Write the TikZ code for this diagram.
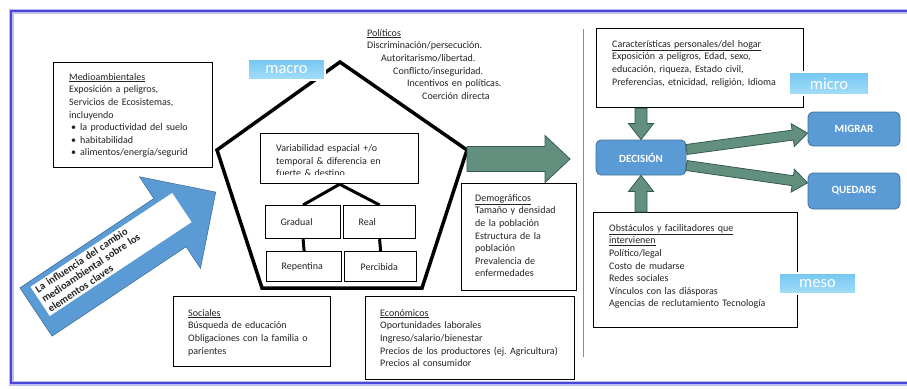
\documentclass[tikz,border=0pt]{standalone}
\usepackage{fontspec}
\setmainfont{Carlito}
\usetikzlibrary{calc}
\definecolor{frameblue}{RGB}{70,70,215}
\definecolor{arrgreen}{RGB}{98,143,126}
\definecolor{arrgreenD}{RGB}{52,92,78}
\definecolor{officeblue}{RGB}{91,155,213}
\definecolor{officeblueD}{RGB}{65,113,156}
\definecolor{lblTop}{RGB}{115,198,242}
\definecolor{lblBot}{RGB}{165,222,248}
\definecolor{divblue}{RGB}{100,150,205}
\definecolor{txtgray}{RGB}{35,35,35}
\newcommand\fatarrow[6]{%
  \coordinate (faA) at (#2);
  \coordinate (faB) at (#3);
  \coordinate (faC) at ($(faB)!#6!(faA)$);
  \draw[#1] ($(faA)!#4!90:(faB)$) -- ($(faC)!#4!-90:(faA)$) -- ($(faC)!#5!-90:(faA)$)
    -- (faB) -- ($(faC)!#5!90:(faA)$) -- ($(faC)!#4!90:(faA)$) -- ($(faA)!#4!-90:(faB)$) -- cycle;
}
\begin{document}
\begin{tikzpicture}[x=1pt,y=-1pt,
  box/.style={draw=black, line width=1.2pt, anchor=north west, inner sep=0pt, fill=white},
  txt/.style={anchor=north west, inner sep=0pt, align=left, text width=#1,
    font=\fontsize{10}{12.6}\selectfont, text=txtgray},
  txt/.default=200pt,
  small/.style={draw=black, line width=1.2pt, anchor=north west, inner ysep=0pt,
    align=left, font=\fontsize{10}{11}\selectfont, text=txtgray, fill=white},
  lbl/.style={top color=lblTop, bottom color=lblBot, draw=white, line width=2pt,
    text=white, font=\fontsize{16.5}{16.5}\selectfont, inner sep=0pt},
  decbox/.style={rounded corners=5pt, fill=officeblue, draw=officeblueD, line width=0.8pt,
    text=white, font=\bfseries\fontsize{11}{11}\selectfont, inner sep=0pt},
  garrow/.style={fill=arrgreen, draw=arrgreenD, line width=0.8pt, line join=miter},
  pent/.style={draw=black, line width=3.5pt, line join=miter},
  tree/.style={draw=black, line width=3pt},
]
\useasboundingbox (0,0) rectangle (907,388);
\fill[white] (0,0) rectangle (907,388);
% frame
\draw[frameblue!35, line width=5pt] (11,11) rectangle (915,383);
\draw[frameblue, line width=2.2pt] (11,11) rectangle (915,383);

% pentagon
\draw[pent] (340,62) -- (467,150) -- (422,288) -- (262,288) -- (217,150) -- cycle;

% macro label
\node[lbl, minimum width=77pt, minimum height=21pt] (macro) at (286.5,69.5) {macro};

% Medioambientales
\node[box, minimum width=159pt, minimum height=105pt] (med) at (53,62) {};
\node[txt] (medt) at (69,71.2) {\strut\underline{Medioambientales}\\
Exposición a peligros,\\
Servicios de Ecosistemas,\\
incluyendo\\
\hspace*{2pt}\makebox[9pt][l]{•}la productividad del suelo\\
\hspace*{2pt}\makebox[9pt][l]{•}habitabilidad\\
\hspace*{2pt}\makebox[9pt][l]{•}alimentos/energía/segurid};

% Politicos
\node[txt=240pt] (pol) at (367,27.2) {\strut\underline{Políticos}\\
Discriminación/persecución.\\
\hspace*{14pt}Autoritarismo/libertad.\\
\hspace*{26pt}Conflicto/inseguridad.\\
\hspace*{40pt}Incentivos en políticas.\\
\hspace*{55pt}Coerción directa};

% Variabilidad
\node[box, minimum width=158pt, minimum height=50pt] (var) at (260,133) {};
\begin{scope}
\clip (262,135) rectangle (416,174);
\node[txt=140pt, font=\fontsize{10}{12.8}\selectfont] (vart) at (276,142.2) {\strut Variabilidad espacial +/o\\
temporal \& diferencia en\\
fuerte \& destino};
\end{scope}

% tree boxes
\node[small, minimum height=33pt, text width=45pt, inner xsep=15pt] (grad) at (265,205) {Gradual};
\node[small, minimum height=33pt, text width=42pt, inner xsep=15pt] (real) at (343,205) {Real};
\node[small, minimum height=30pt, text width=45pt, inner xsep=15pt] (rep) at (266,251) {Repentina};
\node[small, minimum height=30pt, text width=40pt, inner xsep=16pt] (perc) at (344,251) {Percibida};
\draw[tree] (var.south) -- (grad.north);
\draw[tree] (var.south) -- (real.north);
\draw[tree] (grad.south) -- (rep.north);
\draw[tree] (real.south) -- (perc.north);

% big green arrow
\coordinate (pr) at (467,159);
\coordinate (pend) at (570,159);
\fatarrow{garrow}{pr}{pend}{12.5pt}{23.5pt}{25pt}

% Demograficos
\node[box, minimum width=115pt, minimum height=107pt] (dem) at (461,183) {};
\node[txt=100pt] (demt) at (475,192.2) {\strut\underline{Demográficos}\\
Tamaño y densidad\\
de la población\\
Estructura de la\\
población\\
Prevalencia de\\
enfermedades};

% Economicos
\node[box, minimum width=209pt, minimum height=83pt] (eco) at (365,296) {};
\node[txt] (ecot) at (380,307.2) {\strut\underline{Económicos}\\
Oportunidades laborales\\
Ingreso/salario/bienestar\\
Precios de los productores (ej.\ Agricultura)\\
Precios al consumidor};

% Sociales
\node[box, minimum width=157pt, minimum height=70pt] (soc) at (173,296) {};
\node[txt] (soct) at (188,307.2) {\strut\underline{Sociales}\\
Búsqueda de educación\\
Obligaciones con la familia o\\
parientes};

% blue arrow
\fill[officeblue, draw=officeblueD, line width=0.6pt, line join=miter]
  (19.9,287.9) -- (153.9,198.5) -- (139.5,176.8) -- (215.7,192.1) -- (200.5,268.4)
  -- (186.1,246.7) -- (52.1,336.1) -- cycle;
\node[rotate=33.5, fill=white, minimum height=35pt, minimum width=170pt, text width=164pt,
  inner xsep=3pt, inner ysep=0pt, align=left, font=\bfseries\fontsize{10.5}{11.5}\selectfont,
  text=txtgray] (infl) at (111,254.5) {La influencia del cambio\\ medioambiental sobre los\\ elementos claves};

% divider
\draw[divblue, line width=1pt] (583,29) -- (583,357);

% Caracteristicas
\node[box, minimum width=207pt, minimum height=79pt] (car) at (596,28) {};
\node[txt] (cart) at (612,38.2) {\strut\underline{Características personales/del hogar}\\
Exposición a peligros, Edad, sexo,\\
educación, riqueza, Estado civil,\\
Preferencias, etnicidad, religión, Idioma};
\node[lbl, minimum width=80pt, minimum height=23pt] (micro) at (829,83.5) {micro};

% Obstaculos
\node[box, minimum width=204pt, minimum height=115pt] (obs) at (593,212) {};
\node[txt] (obst) at (609,222.2) {\strut\underline{Obstáculos y facilitadores que}\\
\underline{intervienen}\\
Político/legal\\
Costo de mudarse\\
Redes sociales\\
Vínculos con las diásporas\\
Agencias de reclutamiento Tecnología};
\node[lbl, minimum width=77pt, minimum height=21pt] (meso) at (817.5,283.5) {meso};

% decision boxes
\node[decbox, minimum width=90pt, minimum height=35pt] (dec) at (641,157.5) {DECISIÓN};
\node[decbox, minimum width=92pt, minimum height=34pt] (mig) at (854,129) {MIGRAR};
\node[decbox, minimum width=92pt, minimum height=36pt] (que) at (854,191) {QUEDARS};

% green arrows right
\fatarrow{garrow}{car.south -| dec.north}{dec.north}{6pt}{12.5pt}{16pt}
\fatarrow{garrow}{obs.north -| dec.south}{dec.south}{6pt}{12.5pt}{16pt}
\fatarrow{garrow}{dec.10}{mig.185}{5pt}{11.5pt}{15pt}
\fatarrow{garrow}{dec.-10}{que.170}{5pt}{11.5pt}{15pt}
\end{tikzpicture}
\end{document}
